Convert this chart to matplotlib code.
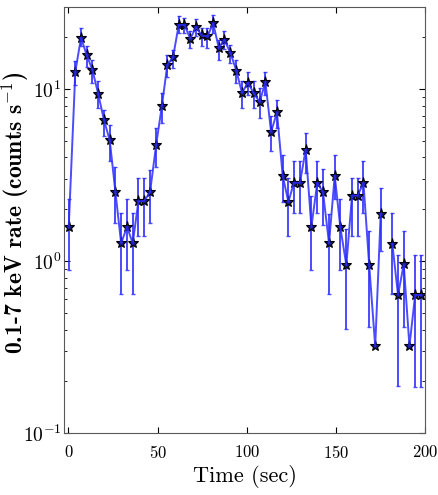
import numpy as np
import matplotlib
matplotlib.use("Agg")
import matplotlib.pyplot as plt

# tiempo (s) de cada bin de la curva de luz
time = [0.2, 3.9, 7.1, 10.3, 13.5, 16.7, 20.0, 23.2, 26.4, 29.6,
        32.9, 36.1, 39.3, 42.4, 45.8, 49.2, 52.4, 55.5, 58.7, 61.9,
        65.1, 68.4, 71.6, 74.8, 78.0, 81.2, 84.4, 87.5, 90.9, 94.2,
        97.4, 100.7, 103.9, 107.3, 110.5, 113.7, 117.0, 120.2, 123.4, 126.5,
        129.9, 133.1, 136.3, 139.6, 142.8, 146.2, 149.4, 152.5, 155.9, 159.1,
        162.3, 165.5, 168.7, 172.1, 175.2, 178.4, 181.7, 184.9, 188.1, 191.3,
        194.5, 197.8]

# tasa 0.1-7 keV (counts/s)
rate = [1.58, 12.6, 19.9, 15.7, 12.9, 9.39, 6.58, 5.04, 2.51, 1.27,
        1.58, 1.27, 2.23, 2.23, 2.51, 4.71, 7.92, 13.8, 15.3, 23.6,
        23.6, 19.6, 22.9, 20.5, 20.2, 24.1, 17.3, 19.3, 16.2, 12.8,
        9.48, 10.9, 9.48, 8.41, 11.0, 5.64, 7.31, 3.14, 2.21, 2.85,
        2.85, 4.45, 1.58, 2.85, 2.52, 1.27, 3.14, 1.58, 0.948, 2.40,
        2.40, 2.86, 0.953, 0.320, 1.89, np.nan, 1.26, 0.635, 0.957, 0.321,
        0.635, 0.635]

# limites superior / inferior de la barra de error
rate_hi = [2.30, 14.5, 22.6, 17.7, 14.8, 11.1, 7.59, 6.21, 3.50, 1.91,
           2.28, 1.91, 3.06, 3.06, 3.40, 5.97, 9.52, 15.8, 16.9, 26.4,
           25.8, 21.6, 25.6, 22.6, 22.6, 27.0, 19.3, 21.6, 18.1, 14.8,
           11.1, 12.6, 11.1, 10.2, 12.6, 6.93, 8.67, 4.16, 3.06, 3.80,
           3.80, 5.58, 2.38, 3.80, 3.45, 1.87, 4.16, 2.28, 1.53, 3.06,
           3.06, 3.80, 1.49, np.nan, 2.67, np.nan, 1.91, 1.09, 1.49, np.nan,
           1.09, 1.09]
rate_lo = [0.887, 10.6, 17.7, 13.5, 10.9, 7.76, 5.31, 3.80, 1.67, 0.641,
           0.887, 0.641, 1.39, 1.39, 1.67, 3.50, 6.38, 11.8, 13.3, 21.1,
           21.1, 17.3, 20.2, 17.7, 17.3, 21.3, 14.8, 17.1, 14.2, 10.9,
           7.76, 9.27, 7.76, 6.82, 9.27, 4.35, 5.97, 2.19, 1.39, 1.91,
           1.91, 3.27, 0.889, 1.91, 1.63, 0.641, 2.28, 0.89, 0.402, 1.40,
           1.40, 1.91, 0.413, np.nan, 1.14, np.nan, 0.641, 0.188, 0.413, np.nan,
           0.185, 0.185]

x_ticks = [0, 50, 100, 150, 200]

plt.rcParams['font.family'] = 'cmr10'
plt.rcParams['mathtext.fontset'] = 'cm'
plt.rcParams['axes.formatter.use_mathtext'] = True

t = np.array(time)
r = np.array(rate)
yerr = [r - np.array(rate_lo), np.array(rate_hi) - r]

fig = plt.figure(figsize=(4.39, 4.95), dpi=100)
ax = fig.add_axes([0.146, 0.125, 0.822, 0.861])

ax.errorbar(t, r, yerr=yerr, fmt='-', color='#2b2bff', lw=1.4, alpha=0.85,
            elinewidth=1.4, capsize=1.5, capthick=1.0)
ax.plot(t, r, ls='none', marker='*', ms=8, mfc='#1a1a80', mec='k', mew=0.8)

ax.set_yscale('log')
ax.set_ylim(0.1, 30)
ax.set_xlim(-2.4, 200)
ax.set_xticks(x_ticks)

ax.tick_params(which='both', direction='in', top=True, right=True)
ax.tick_params(axis='x', labelsize=12, pad=8)
ax.tick_params(axis='y', labelsize=14, pad=2)
ax.tick_params(which='major', length=4, width=0.8)
ax.tick_params(which='minor', length=2, width=0.6)
for s in ax.spines.values():
    s.set_color('0.35')

ax.set_xlabel('Time (sec)', fontsize=16, labelpad=3)
ax.set_ylabel(r'0.1-7 keV rate (counts $\mathbf{s^{-1}}$)', fontname='cmb10',
              fontsize=17)
ax.yaxis.set_label_coords(-0.093, 0.518)

fig.savefig('out.png', dpi=100, facecolor='white')
